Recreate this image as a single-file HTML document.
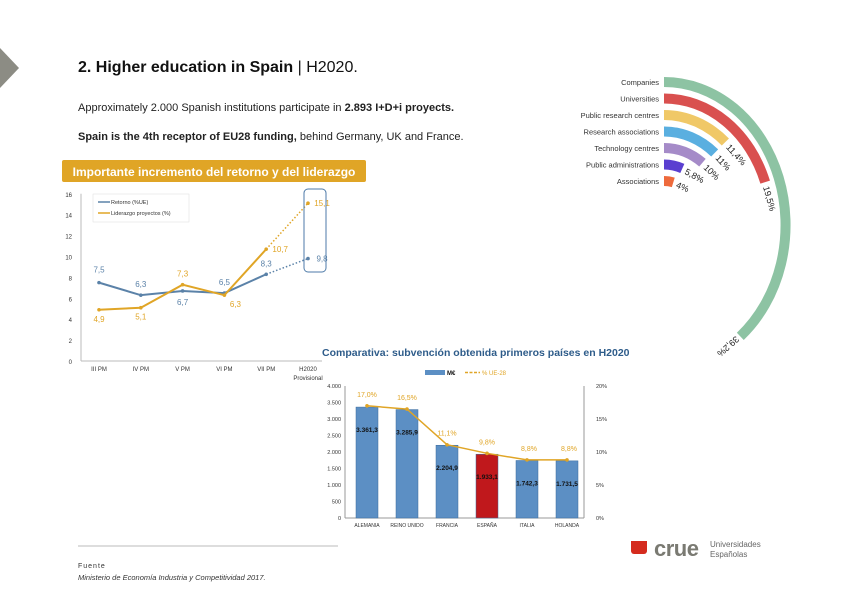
<!DOCTYPE html>
<html><head><meta charset="utf-8"><style>
html,body{margin:0;padding:0;background:#fff;}
body{width:842px;height:596px;overflow:hidden;position:relative;font-family:"Liberation Sans",sans-serif;}
</style></head><body>
<svg id="s" width="842" height="596" viewBox="0 0 842 596" xmlns="http://www.w3.org/2000/svg" font-family="Liberation Sans, sans-serif">
<polygon points="0,48 0,88 19,68" fill="#8c8c84"/>
<text x="78" y="72" font-size="16" fill="#111"><tspan font-weight="bold">2. Higher education in Spain</tspan> | H2020.</text>
<text x="78" y="111" font-size="11" fill="#222">Approximately 2.000 Spanish institutions participate in <tspan font-weight="bold">2.893 I+D+i proyects.</tspan></text>
<text x="78" y="140" font-size="11" fill="#222"><tspan font-weight="bold">Spain is the 4th receptor of EU28 funding,</tspan>  behind Germany, UK and France.</text>
<rect x="62" y="160" width="304" height="22" rx="2" fill="#e0a526"/>
<text x="214" y="176" font-size="12" font-weight="bold" fill="#fff" text-anchor="middle">Importante incremento del retorno y del liderazgo</text>
<g id="lc"></g>
<text x="322" y="356" font-size="10.5" font-weight="bold" fill="#2e5c8a">Comparativa: subvención obtenida primeros países en H2020</text>
<g id="bc"></g>
<g id="rc"></g>
<line x1="78" y1="546" x2="338" y2="546" stroke="#bbb" stroke-width="1"/>
<text x="78" y="568" font-size="7" fill="#333" letter-spacing="1">Fuente</text>
<text x="78" y="580" font-size="7.5" fill="#333" font-style="italic">Ministerio de Economía Industria y Competitividad 2017.</text>
<g>
<path d="M631,541 h16 v10 a3,3 0 0 1 -3,3 h-10 a3,3 0 0 1 -3,-3z" fill="#d52b1e"/>
<text x="654" y="556" font-size="22" font-weight="bold" fill="#7a7a72" letter-spacing="-0.5">crue</text>
<text x="710" y="547" font-size="8" fill="#666">Universidades</text>
<text x="710" y="557" font-size="8" fill="#666">Españolas</text>
</g>
</svg>
<script>
const NS="http://www.w3.org/2000/svg";
function mk(p,t,a){const e=document.createElementNS(NS,t);for(const k in a)e.setAttribute(k,a[k]);p.appendChild(e);return e;}
// line chart data
const lcCats=["III PM","IV PM","V PM","VI PM","VII PM","H2020"];
const retorno=[7.5,6.3,6.7,6.5,8.3,9.8];
const liderazgo=[4.9,5.1,7.3,6.3,10.7,15.1];
const lcTicks=[0,2,4,6,8,10,12,14,16];
// bar chart data
const bcCats=["ALEMANIA","REINO UNIDO","FRANCIA","ESPAÑA","ITALIA","HOLANDA"];
const bcVals=[3361.3,3285.9,2204.9,1933.1,1742.3,1731.5];
const bcLabels=["3.361,3","3.285,9","2.204,9","1.933,1","1.742,3","1.731,5"];
const bcPct=[17.0,16.5,11.1,9.8,8.8,8.8];
const bcTicks=[0,500,1000,1500,2000,2500,3000,3500,4000];
const bcPctTicks=[0,5,10,15,20];
// radial data
const rcCats=["Companies","Universities","Public research centres","Research associations","Technology centres","Public administrations","Associations"];
const rcVals=[39.2,19.5,11.4,11,10,5.8,4];
const rcColors=["#8dc3a3","#d9504f","#f0c867","#5aafe0","#a58bc8","#5a3fd0","#ee6a3c"];

(function(){
const g=document.getElementById('lc');
const x=i=>99+i*41.8, y=v=>361-v*10.45;
mk(g,'line',{x1:81,y1:y(16),x2:81,y2:361,stroke:'#bbb'});
mk(g,'line',{x1:81,y1:361,x2:322,y2:361,stroke:'#bbb'});
lcTicks.forEach(t=>{const e=mk(g,'text',{x:72,y:y(t)+3,'font-size':6,fill:'#333','text-anchor':'end'});e.textContent=t;
});
lcCats.forEach((c,i)=>{const e=mk(g,'text',{x:x(i),y:371,'font-size':6,fill:'#333','text-anchor':'middle'});e.textContent=c;
});
mk(g,'text',{x:x(5),y:380,'font-size':6,fill:'#333','text-anchor':'middle'}).textContent='Provisional';
function series(vals,col,name,lblOff){
 const n=vals.length;
 const solid=vals.slice(0,n-1).map((v,i)=>x(i)+','+y(v)).join(' ');
 const l=mk(g,'polyline',{points:solid,fill:'none',stroke:col,'stroke-width':2});
 
 mk(g,'line',{x1:x(n-2),y1:y(vals[n-2]),x2:x(n-1),y2:y(vals[n-1]),stroke:col,'stroke-width':1.5,'stroke-dasharray':'1.5,2'});
 vals.forEach((v,i)=>{const p=mk(g,'circle',{cx:x(i),cy:y(v),r:1.8,fill:col});
  
  const o=lblOff[i];const t=mk(g,'text',{x:x(i)+o[0],y:y(v)+o[1],'font-size':8,fill:col,'text-anchor':'middle'});t.textContent=String(v).replace('.',',');});
}
series(retorno,'#5b82a8','retorno',[[0,-10],[0,-8],[0,14],[0,-8],[0,-8],[14,3]]);
series(liderazgo,'#e0a526','liderazgo',[[0,12],[0,12],[0,-8],[11,12],[14,3],[14,3]]);
mk(g,'rect',{x:304,y:189,width:22,height:83,rx:4,fill:'none',stroke:'#4d7aa8','stroke-width':1});
mk(g,'rect',{x:93,y:194,width:96,height:28,fill:'#fff',stroke:'#ddd','stroke-width':0.5});
mk(g,'line',{x1:98,y1:202,x2:110,y2:202,stroke:'#5b82a8','stroke-width':1.5});
mk(g,'text',{x:111,y:204,'font-size':5.5,fill:'#333'}).textContent='Retorno (%UE)';
mk(g,'line',{x1:98,y1:213,x2:110,y2:213,stroke:'#e0a526','stroke-width':1.5});
mk(g,'text',{x:111,y:215,'font-size':5.5,fill:'#333'}).textContent='Liderazgo proyectos (%)';
})();

(function(){
const g=document.getElementById('bc');
const x0=345,x1=584,y=v=>518-v*0.033,yp=p=>518-p*6.6,x=i=>367+i*40;
mk(g,'line',{x1:x0,y1:386,x2:x0,y2:518,stroke:'#999'});
mk(g,'line',{x1:x0,y1:518,x2:x1,y2:518,stroke:'#999'});
mk(g,'line',{x1:x1,y1:386,x2:x1,y2:518,stroke:'#999'});
bcTicks.forEach(t=>{const e=mk(g,'text',{x:x0-4,y:y(t)+2,'font-size':5.5,fill:'#333','text-anchor':'end'});e.textContent=t.toLocaleString('de-DE');
});
bcPctTicks.forEach(t=>{const e=mk(g,'text',{x:x1+12,y:yp(t)+2,'font-size':5.5,fill:'#333'});e.textContent=t+'%';
});
bcCats.forEach((c,i)=>{
 const v=bcVals[i];const col=c==='ESPAÑA'?'#c0181c':'#5c8fc4';
 const r=mk(g,'rect',{x:x(i)-11,y:y(v),width:22,height:518-y(v),fill:col,stroke:'#3a6a9c','stroke-width':0.5});
 
 const t=mk(g,'text',{x:x(i),y:y(v)+25,'font-size':6.5,'font-weight':'bold',fill:'#111','text-anchor':'middle'});t.textContent=bcLabels[i];
 const c2=mk(g,'text',{x:x(i),y:527,'font-size':5,fill:'#333','text-anchor':'middle'});c2.textContent=c;
});
mk(g,'polyline',{points:bcPct.map((p,i)=>x(i)+','+yp(p)).join(' '),fill:'none',stroke:'#e0a526','stroke-width':1.5});
bcPct.forEach((p,i)=>{const d=mk(g,'circle',{cx:x(i),cy:yp(p),r:1.8,fill:'#e0a526'});
 
 const t=mk(g,'text',{x:x(i)+(i>=4?2:0),y:yp(p)-9,'font-size':7,fill:'#e0a526','text-anchor':'middle'});t.textContent=p.toFixed(1).replace('.',',')+'%';});
mk(g,'rect',{x:425,y:370,width:20,height:5,fill:'#5c8fc4'});
mk(g,'text',{x:447,y:375,'font-size':6,'font-weight':'bold',fill:'#111'}).textContent='M€';
mk(g,'line',{x1:465,y1:372.5,x2:480,y2:372.5,stroke:'#e0a526','stroke-width':1.5,'stroke-dasharray':'3,1.5'});
mk(g,'text',{x:482,y:375,'font-size':6,fill:'#e0a526'}).textContent='% UE-28';
})();

(function(){
const g=document.getElementById('rc');
const cx=664,cy=225,dpp=3.6,sx=0.85;
rcCats.forEach((c,i)=>{
 const r=143-i*16.5,rx=r*sx,a=rcVals[i]*dpp*Math.PI/180;
 const ex=cx+rx*Math.sin(a),ey=cy-r*Math.cos(a);
 const p=mk(g,'path',{d:`M${cx},${cy-r} A${rx},${r} 0 ${a>Math.PI?1:0} 1 ${ex},${ey}`,fill:'none',stroke:rcColors[i],'stroke-width':10});
 
 const t=mk(g,'text',{x:659,y:cy-r+3,'font-size':7.5,fill:'#333','text-anchor':'end'});t.textContent=c;
 
 const lr=r-4,la=a+4/r,lx=cx+lr*sx*Math.sin(la),ly=cy-lr*Math.cos(la);
 const deg=Math.atan2(lr*Math.sin(la),lr*sx*Math.cos(la))*180/Math.PI;
 const v=mk(g,'text',{x:lx,y:ly,'font-size':9,fill:'#222','text-anchor':'start',transform:`rotate(${deg} ${lx} ${ly})`});
 v.textContent=String(rcVals[i]).replace('.',',')+'%';
});
})();
</script>
</body></html>
